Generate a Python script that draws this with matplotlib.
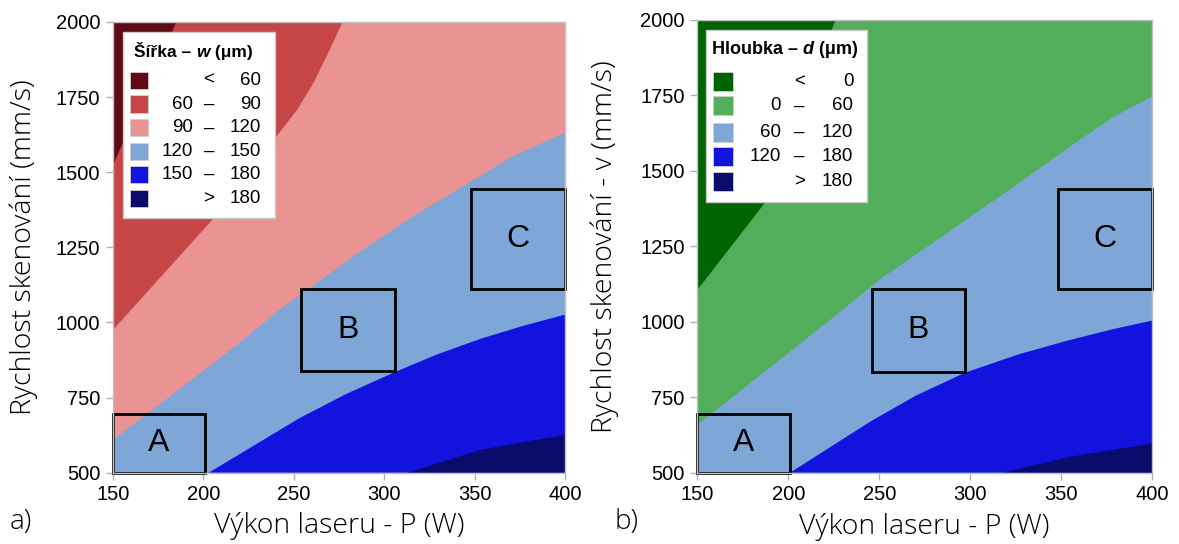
import matplotlib
matplotlib.use("Agg")
import matplotlib.pyplot as plt
from matplotlib.patches import Rectangle, Polygon

# axis ranges
p_range = [150, 400]
v_range = [500, 2000]
p_ticks = [150, 200, 250, 300, 350, 400]
v_ticks = [500, 750, 1000, 1250, 1500, 1750, 2000]

# contour boundaries (P [W], v [mm/s])
# a) width w
w60_p = [150, 185]
w60_v = [1523, 2000]
w90_p = [150, 205, 242, 252, 261, 270, 277]
w90_v = [975, 1342, 1631, 1709, 1798, 1909, 2000]
w120_p = [150, 200, 222, 242, 283, 316, 353, 371, 400]
w120_v = [609, 839, 942, 1042, 1220, 1353, 1487, 1553, 1631]
w150_p = [203, 253, 279, 306, 329, 353, 377, 400]
w150_v = [500, 681, 762, 835, 893, 945, 989, 1026]
w180_p = [313, 353, 400]
w180_v = [500, 576, 626]

# b) depth d
d0_p = [150, 187, 226]
d0_v = [1105, 1393, 2000]
d60_p = [150, 223, 250, 287, 324, 360, 379, 400]
d60_v = [658, 1006, 1139, 1293, 1448, 1602, 1680, 1746]
d120_p = [201, 245, 270, 297, 327, 355, 378, 400]
d120_v = [500, 669, 755, 831, 893, 940, 975, 1004]
d180_p = [318, 355, 400]
d180_v = [500, 553, 597]

w_colors = ['#5e0b15', '#c64545', '#ea9393', '#7ea7d8', '#1313e0', '#0b0b6c']
d_colors = ['#006400', '#52ae5b', '#7ea7d8', '#1313e0', '#0b0b6c']

w_labels = [('', '<', '60'), ('60', '–', '90'), ('90', '–', '120'),
            ('120', '–', '150'), ('150', '–', '180'), ('', '>', '180')]
d_labels = [('', '<', '0'), ('0', '–', '60'), ('60', '–', '120'),
            ('120', '–', '180'), ('', '>', '180')]

# process windows A, B, C: (P0, v0, P1, v1)
box_names = ['A', 'B', 'C']
w_boxes = [(150, 500, 201, 695), (254, 837, 306, 1111), (348, 1112, 400, 1445)]
d_boxes = [(150, 500, 201, 694), (246, 835, 297, 1108), (348, 1109, 400, 1440)]

TICK_FONT = 'Liberation Sans'
LABEL_FONT = ['Open Sans', 'DejaVu Sans']

fig = plt.figure(figsize=(11.79, 5.44), dpi=100)
ax1 = fig.add_axes([0.0958, 0.1311, 0.3834, 0.8285])
ax2 = fig.add_axes([0.5914, 0.1311, 0.3859, 0.8322])


def draw_map(ax, bounds, colors):
    x0, x1 = p_range
    y0, y1 = v_range
    ax.add_patch(Rectangle((x0, y0), x1 - x0, y1 - y0, facecolor=colors[0], edgecolor='none'))
    for (px, vy), c in zip(bounds, colors[1:]):
        pts = list(zip(px, vy)) + [(x1, y1), (x1, y0), (x0, y0)]
        ax.add_patch(Polygon(pts, closed=True, facecolor=c, edgecolor='none'))


def draw_boxes(ax, boxes):
    for name, (a, b, c, d) in zip(box_names, boxes):
        ax.add_patch(Rectangle((a, b), c - a, d - b, fill=False, ec='black', lw=2, zorder=5, clip_on=False))
        ax.text((a + c) / 2, (b + d) / 2, name, ha='center', va='center', fontsize=23,
                family=TICK_FONT, zorder=6)


def draw_legend(ax, title, sym, colors, labels, box, title_xy, rows_y, patch_x, patch_wh, cols, tsize):
    ax.add_patch(Rectangle((box[0], box[1]), box[2], box[3], transform=ax.transAxes,
                           facecolor='white', edgecolor='#c8c8c8', lw=1, zorder=7))
    t = ax.text(title_xy[0], title_xy[1], title + ' – ', transform=ax.transAxes, fontsize=tsize,
                fontweight='bold', family=TICK_FONT, va='center', ha='left', zorder=8)
    t2 = ax.annotate(sym, xy=(1, 0), xycoords=t, va='bottom', ha='left', fontsize=tsize,
                     fontweight='bold', style='italic', family=TICK_FONT, zorder=8)
    ax.annotate(' (μm)', xy=(1, 0), xycoords=t2, va='bottom', ha='left', fontsize=tsize,
                fontweight='bold', family=TICK_FONT, zorder=8)
    for y, c, (lo, mid, hi) in zip(rows_y, colors, labels):
        ax.add_patch(Rectangle((patch_x, y - patch_wh[1] / 2), patch_wh[0], patch_wh[1],
                               transform=ax.transAxes, facecolor=c, edgecolor='#d0d0d0',
                               lw=0.6, zorder=8))
        kw = dict(transform=ax.transAxes, fontsize=13.5, family=TICK_FONT, va='center', zorder=8)
        ax.text(cols[0], y, lo, ha='right', **kw)
        ax.text(cols[1], y, mid, ha='center', **kw)
        ax.text(cols[2], y, hi, ha='right', **kw)


def style_axes(ax, ylabel, ylab_x):
    ax.set_xlim(p_range)
    ax.set_ylim(v_range)
    ax.set_xticks(p_ticks)
    ax.set_yticks(v_ticks)
    for s in ax.spines.values():
        s.set_color('#c0c0c0')
        s.set_linewidth(1)
        s.set_zorder(9)
    ax.tick_params(direction='out', length=5, width=1, color='#b0b0b0', pad=4, labelsize=14.5)
    for lab in ax.get_xticklabels() + ax.get_yticklabels():
        lab.set_family(TICK_FONT)
    ax.set_xlabel('Výkon laseru - P (W)', fontsize=20.5, family=LABEL_FONT, fontweight='light')
    ax.set_ylabel(ylabel, fontsize=20.5, family=LABEL_FONT, fontweight='light')
    ax.xaxis.set_label_coords(0.5, -0.088)
    ax.yaxis.set_label_coords(ylab_x, 0.5)


draw_map(ax1, [(w60_p, w60_v), (w90_p, w90_v), (w120_p, w120_v), (w150_p, w150_v), (w180_p, w180_v)], w_colors)
draw_map(ax2, [(d0_p, d0_v), (d60_p, d60_v), (d120_p, d120_v), (d180_p, d180_v)], d_colors)
draw_boxes(ax1, w_boxes)
draw_boxes(ax2, d_boxes)

draw_legend(ax1, 'Šířka', 'w', w_colors, w_labels,
            box=(0.0215, 0.565, 0.337, 0.413), title_xy=(0.047, 0.933),
            rows_y=[0.871, 0.818, 0.765, 0.712, 0.661, 0.608],
            patch_x=0.0376, patch_wh=(0.039, 0.038), cols=(0.178, 0.212, 0.327), tsize=12.5)
draw_legend(ax2, 'Hloubka', 'd', d_colors, d_labels,
            box=(0.019, 0.599, 0.355, 0.379), title_xy=(0.032, 0.934),
            rows_y=[0.864, 0.810, 0.751, 0.698, 0.643],
            patch_x=0.035, patch_wh=(0.043, 0.042), cols=(0.183, 0.224, 0.343), tsize=13)

style_axes(ax1, 'Rychlost skenování (mm/s)', -0.166)
style_axes(ax2, 'Rychlost skenování - v (mm/s)', -0.173)

fig.text(0.0085, 0.040, 'a)', fontsize=20, family=LABEL_FONT, fontweight='light', va='center')
fig.text(0.521, 0.040, 'b)', fontsize=20, family=LABEL_FONT, fontweight='light', va='center')

fig.savefig('out.png', dpi=100)
